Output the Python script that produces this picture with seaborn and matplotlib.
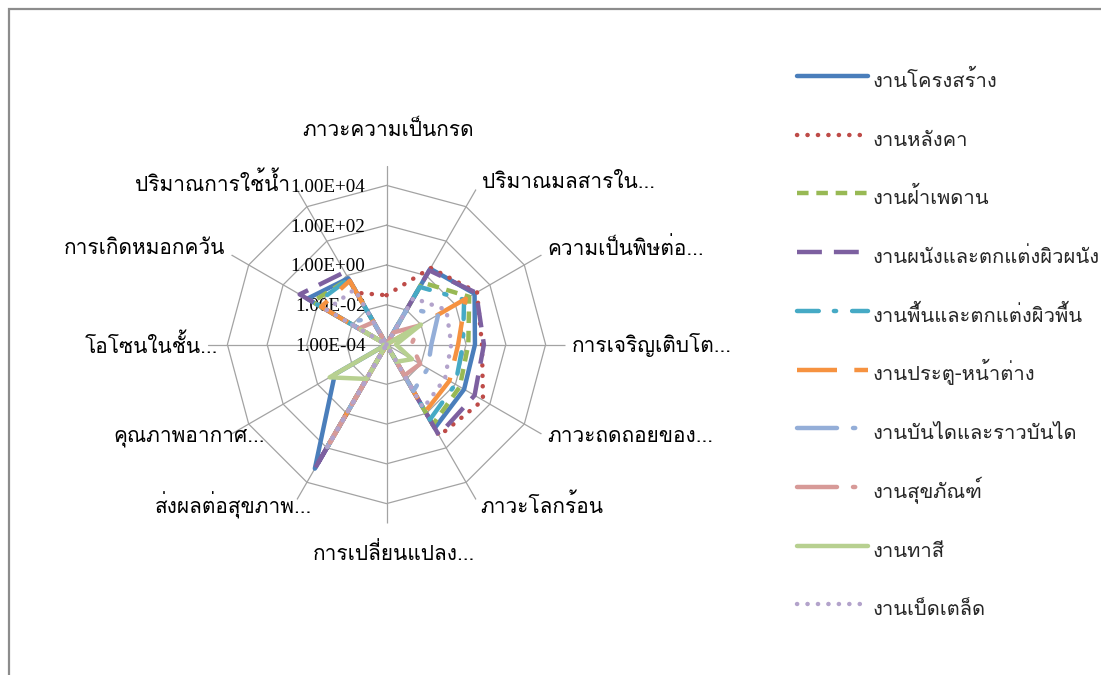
import numpy as np
import pandas as pd
import matplotlib
matplotlib.use("Agg")
import matplotlib.pyplot as plt
from matplotlib import font_manager
from matplotlib.ft2font import FT2Font
from matplotlib.patches import Rectangle
import seaborn as sns

# ---- data -------------------------------------------------------------
categories = [
    "ภาวะความเป็นกรด", "ปริมาณมลสารใน...", "ความเป็นพิษต่อ...",
    "การเจริญเติบโต...", "ภาวะถดถอยของ...", "ภาวะโลกร้อน",
    "การเปลี่ยนแปลง...", "ส่งผลต่อสุขภาพ...", "คุณภาพอากาศ...",
    "โอโซนในชั้น...", "การเกิดหมอกควัน", "ปริมาณการใช้น้ำ",
]

series_names = [
    "งานโครงสร้าง", "งานหลังคา", "งานฝ้าเพดาน", "งานผนังและตกแต่งผิวผนัง",
    "งานพื้นและตกแต่งผิวพื้น", "งานประตู-หน้าต่าง", "งานบันไดและราวบันได",
    "งานสุขภัณฑ์", "งานทาสี", "งานเบ็ดเตล็ด",
]

structure   = [1e-4, 2.5, 13, 2.8, 3.2, 7.1, 1e-4, 1600, 0.1, 1e-4, 4.0, 0.7]
roof        = [0.03, 2.8, 18, 6.3, 40, 20, 1e-4, 1e-4, 1e-4, 1e-4, 1e-4, 0.1]
ceiling     = [1e-4, 0.4, 6.3, 1.3, 1.8, 4.5, 1e-4, 80, 1e-4, 1e-4, 2.0, 0.63]
wall        = [1e-4, 2.0, 16, 7.9, 13, 18, 1e-4, 2000, 1e-4, 1e-4, 11, 1.6]
floor       = [1e-4, 0.22, 3.2, 0.7, 1.0, 2.3, 1e-4, 90, 1e-4, 1e-4, 1.3, 0.63]
door_window = [1e-4, 1e-4, 4.0, 0.4, 0.45, 0.8, 1e-4, 90, 1e-4, 1e-4, 0.63, 0.5]
stairs      = [1e-4, 0.013, 0.1, 0.018, 0.025, 0.05, 1e-4, 90, 1e-4, 1e-4, 0.018, 0.0032]
sanitary    = [1e-4, 5e-4, 8e-3, 1.8e-3, 9e-3, 6.3e-3, 1e-4, 50, 1e-4, 1e-4, 4e-3, 2e-3]
paint       = [1e-4, 1e-4, 1e-2, 3e-4, 3e-3, 1e-3, 1e-4, 1e-2, 0.2, 1e-4, 3e-3, 1e-4]
misc        = [1e-4, 0.05, 0.3, 0.18, 0.25, 0.5, 1e-4, 90, 1e-4, 1e-4, 0.3, 0.16]

ring_values = [1e-4, 1e-2, 1e0, 1e2, 1e4]
ring_labels = ["1.00E-04", "1.00E-02", "1.00E+00", "1.00E+02", "1.00E+04"]

all_series = [structure, roof, ceiling, wall, floor, door_window,
              stairs, sanitary, paint, misc]

# ---- styling ----------------------------------------------------------
colors = ["#4A7EBB", "#BE4B48", "#98B954", "#7D60A0", "#46AAC5",
          "#F69240", "#94AED8", "#D79A98", "#B7D090", "#B3A3CB"]
dash_patterns = ["", (0.05, 2.3), (2.6, 1.75), (5.6, 2.7), (4.9, 3.4, 0.5, 3.6),
                 (9.0, 3.9), (9.0, 3.6, 0.5, 3.6), (9.0, 3.6, 0.5, 3.6), "",
                 (0.05, 2.3)]
round_caps = {1, 9, 4, 6, 7}
LW = 3.2

sns.set_theme(style="white")


def thai_family():
    for entry in font_manager.fontManager.ttflist:
        try:
            cmap = FT2Font(entry.fname).get_charmap()
        except Exception:
            continue
        if 0x0E01 in cmap and 0x0E32 in cmap and 0x0E49 in cmap:
            return entry.name
    return "DejaVu Sans"


thai = thai_family()
plt.rcParams["font.family"] = [thai, "DejaVu Sans"]

W, H = 1101, 675
fig = plt.figure(figsize=(W / 100, H / 100), dpi=100)
fig.patch.set_facecolor("white")

# chart-area frame
fig.patches.append(Rectangle((9 / W, -0.2), 1.5, 1.2 - 9 / H,
                             transform=fig.transFigure, fill=False,
                             edgecolor="#8C8C8C", linewidth=1.6))

cx, cy, R = 386.5, 344.5, 179.0
ax = fig.add_axes([(cx - R) / W, (H - cy - R) / H, 2 * R / W, 2 * R / H],
                  projection="polar")
ax.set_facecolor("none")
ax.set_theta_zero_location("N")
ax.set_theta_direction(-1)
ax.set_rscale("log")
ax.set_rlim(1e-4, 1e5)
ax.grid(False)
ax.spines["polar"].set_visible(False)

n = len(categories)
angles = np.arange(n) * 2 * np.pi / n
closed = np.append(angles, 2 * np.pi)

# polygon gridlines and spokes
grid_col = "#A3A3A3"
for rv in ring_values[1:]:
    ax.plot(closed, [rv] * (n + 1), color=grid_col, lw=0.9, zorder=1)
for a in angles:
    ax.plot([a, a], [1e-4, 1e5], color=grid_col, lw=0.9, zorder=1)

rows = []
for name, vals in zip(series_names, all_series):
    vv = list(vals) + [vals[0]]
    for t, v in zip(closed, vv):
        rows.append({"series": name, "theta": t, "value": v})
df = pd.DataFrame(rows)

before = len(ax.lines)
sns.lineplot(data=df, x="theta", y="value", hue="series", style="series",
             hue_order=series_names, style_order=series_names,
             palette=dict(zip(series_names, colors)),
             dashes=dict(zip(series_names, dash_patterns)),
             sort=False, estimator=None, linewidth=LW, legend=False, ax=ax)
data_lines = ax.lines[before:]
for i, ln in enumerate(data_lines):
    ln.set_zorder(3 + i)
    ln.set_clip_on(False)
    ln.set_dash_capstyle("round" if i in round_caps else "butt")
    ln.set_solid_capstyle("round")
    ln.set_solid_joinstyle("round")
ax.set_xlabel("")
ax.set_ylabel("")
ax.set_xticks([])
ax.set_yticks([])

# value ring labels (beneath the series)
for rv, lab in zip(ring_values, ring_labels):
    ax.annotate(lab, xy=(0, rv), xytext=(-21, -2), textcoords="offset pixels",
                ha="right", va="center", fontsize=13.8,
                family="Liberation Serif", color="black", zorder=2)

# category labels around the web
FS = 15
label_offsets = [(1.5, 35.5, "center"), (6, 6.5, "left"), (5.5, 7, "left"),
                 (6.5, -0.5, "left"), (5.5, -3, "left"), (4, -5.5, "left"),
                 (7.5, -29.5, "center"), (15, -5.5, "right"), (33.5, -3, "right"),
                 (10.5, -0.5, "right"), (-6.5, 7, "right"), (-7, 6.5, "right")]
for a, lab, (dx, dy, ha) in zip(angles, categories, label_offsets):
    ax.annotate(lab, xy=(a, 1e5), xytext=(dx, dy), textcoords="offset pixels",
                ha=ha, va="center", fontsize=FS, color="black",
                annotation_clip=False)

# legend: uniform row pitch, handle box taller than any Thai text line
LFS = 14.5
fs_px = LFS * 100 / 72
leg = fig.legend(data_lines, series_names, loc="upper left",
                 bbox_to_anchor=(797 / W, 1 - 65 / H), frameon=False,
                 fontsize=LFS, handlelength=71 / fs_px, handletextpad=5 / fs_px,
                 handleheight=2.0, labelspacing=27.6 / fs_px,
                 borderpad=0, borderaxespad=0)

fig.savefig("out.png", dpi=100, facecolor="white")
